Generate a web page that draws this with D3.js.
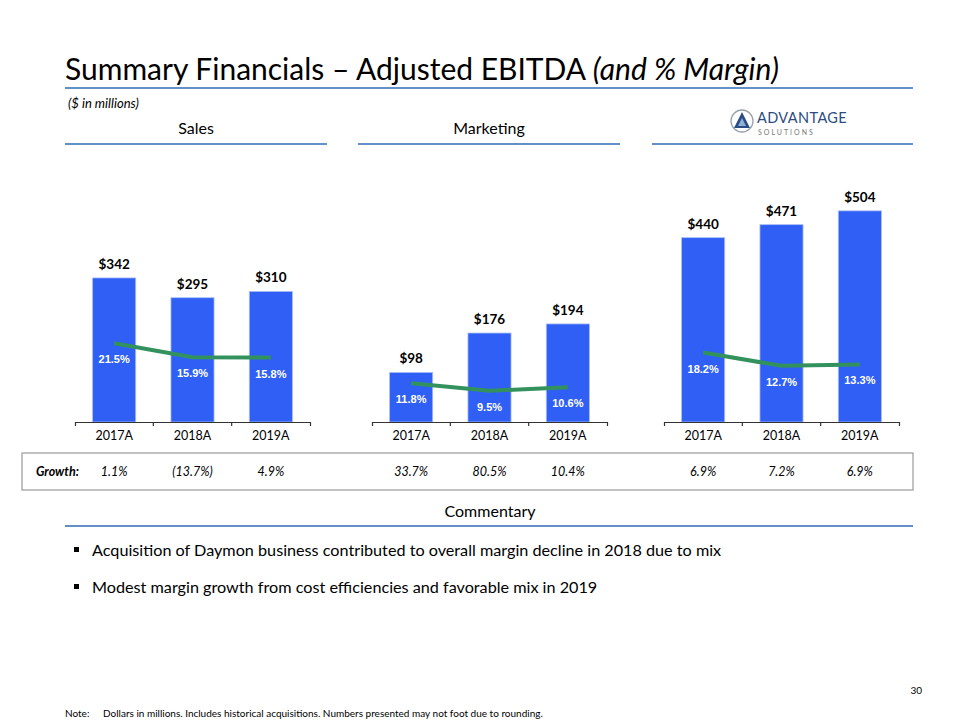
<!DOCTYPE html>
<html>
<head>
<meta charset="utf-8">
<script src="https://cdn.jsdelivr.net/npm/d3@7"></script>
<style>
  html, body { margin: 0; padding: 0; background: #fff; }
  svg { display: block; }
</style>
</head>
<body>
<svg id="chart" width="960" height="720"></svg>
<script>
// ---------- DATA ----------
const categories = ["2017A", "2018A", "2019A"];
const panelTitles = ["Sales", "Marketing", ""];
const salesEbitda = [342, 295, 310];
const salesMargin = [21.5, 15.9, 15.8];
const marketingEbitda = [98, 176, 194];
const marketingMargin = [11.8, 9.5, 10.6];
const totalEbitda = [440, 471, 504];
const totalMargin = [18.2, 12.7, 13.3];
const salesGrowth = ["1.1%", "(13.7%)", "4.9%"];
const marketingGrowth = ["33.7%", "80.5%", "10.4%"];
const totalGrowth = ["6.9%", "7.2%", "6.9%"];
const bullets = [
  "Acquisition of Daymon business contributed to overall margin decline in 2018 due to mix",
  "Modest margin growth from cost efficiencies and favorable mix in 2019"
];

// ---------- LAYOUT ----------
const svg = d3.select("#chart");
const font = "Lato, 'Open Sans', sans-serif";
const lineBlue = "#2f6db5";
const barBlue = "#2f5ff4";
const green = "#33915e";
const axisY = 422, topY = 192;

const panels = [
  { x0: 75, headX: [65, 327], ebitda: salesEbitda, margin: salesMargin, growth: salesGrowth, yMax: 546, mDom: [-10, 82] },
  { x0: 372, headX: [358, 620], ebitda: marketingEbitda, margin: marketingMargin, growth: marketingGrowth, yMax: 455, mDom: [0, 70] },
  { x0: 664, headX: [652, 913], ebitda: totalEbitda, margin: totalMargin, growth: totalGrowth, yMax: 549, mDom: [-10.5, 84.5] }
];

// Title
const title = svg.append("text").attr("x", 65).attr("y", 80)
  .attr("font-family", font).attr("font-size", 30).attr("fill", "#000");
title.append("tspan").text("Summary Financials \u2013 Adjusted EBITDA ");
title.append("tspan").attr("font-style", "italic").text("(and % Margin)");
svg.append("line").attr("x1", 65).attr("x2", 913).attr("y1", 88).attr("y2", 88)
  .attr("stroke", lineBlue).attr("stroke-width", 1.5);

svg.append("text").attr("x", 68).attr("y", 108).attr("font-family", font)
  .attr("font-size", 13).attr("font-style", "italic").attr("fill", "#000").text("($ in millions)");

// Panels
panels.forEach((p, i) => {
  if (panelTitles[i]) {
    svg.append("text").attr("x", (p.headX[0] + p.headX[1]) / 2).attr("y", 134)
      .attr("text-anchor", "middle").attr("font-family", font).attr("font-size", 16)
      .attr("fill", "#000").text(panelTitles[i]);
  }
  svg.append("line").attr("x1", p.headX[0]).attr("x2", p.headX[1]).attr("y1", 144).attr("y2", 144)
    .attr("stroke", lineBlue).attr("stroke-width", 1.5);

  const x = d3.scaleBand().domain(categories).range([p.x0, p.x0 + 235])
    .paddingInner(0.45).paddingOuter(0.225);
  const y = d3.scaleLinear().domain([0, p.yMax]).range([axisY, topY]);
  const ym = d3.scaleLinear().domain(p.mDom).range([axisY, topY]);

  const g = svg.append("g");
  g.selectAll("rect.bar").data(p.ebitda).join("rect").attr("class", "bar")
    .attr("x", (d, j) => x(categories[j])).attr("width", x.bandwidth())
    .attr("y", d => y(d)).attr("height", d => axisY - y(d))
    .attr("fill", barBlue).attr("stroke", "#a9bdf7").attr("stroke-width", 0.8);
  g.selectAll("text.val").data(p.ebitda).join("text").attr("class", "val")
    .attr("x", (d, j) => x(categories[j]) + x.bandwidth() / 2).attr("y", d => y(d) - 9)
    .attr("text-anchor", "middle").attr("font-family", font).attr("font-weight", "bold")
    .attr("font-size", 13.5).attr("fill", "#000").text(d => "$" + d);
  const line = d3.line().x((d, j) => x(categories[j]) + x.bandwidth() / 2).y(d => ym(d));
  g.append("path").datum(p.margin).attr("d", line).attr("fill", "none")
    .attr("stroke", green).attr("stroke-width", 4);
  g.selectAll("text.mg").data(p.margin).join("text").attr("class", "mg")
    .attr("x", (d, j) => x(categories[j]) + x.bandwidth() / 2).attr("y", d => ym(d) + 20)
    .attr("text-anchor", "middle").attr("font-family", "'Liberation Sans', Arial, sans-serif")
    .attr("font-weight", "bold").attr("font-size", 11).attr("fill", "#fff")
    .text(d => d.toFixed(1) + "%");
  const ax = svg.append("g").attr("transform", `translate(0,${axisY})`)
    .call(d3.axisBottom(x).tickSize(0).tickSizeOuter(4).tickPadding(9));
  ax.select(".domain").attr("stroke", "#333").attr("stroke-width", 1.2);
  ax.selectAll("text").attr("font-family", font).attr("font-size", 12.5).attr("fill", "#000");
  const inner = categories.slice(1).map((c, j) => p.x0 + x.step() * (j + 1));
  ax.selectAll("line.bt").data(inner).join("line").attr("class", "bt")
    .attr("x1", d => d).attr("x2", d => d).attr("y1", 0).attr("y2", 4)
    .attr("stroke", "#333").attr("stroke-width", 1.2);

  svg.selectAll(null).data(p.growth).join("text")
    .attr("x", (d, j) => x(categories[j]) + x.bandwidth() / 2).attr("y", 476)
    .attr("text-anchor", "middle").attr("font-family", font).attr("font-style", "italic")
    .attr("font-size", 12.5).attr("fill", "#000").text(d => d);
});

// growth box
svg.append("rect").attr("x", 22).attr("y", 453).attr("width", 891).attr("height", 37)
  .attr("fill", "none").attr("stroke", "#999").attr("stroke-width", 1.2);
svg.append("text").attr("x", 36).attr("y", 476).attr("font-family", font)
  .attr("font-style", "italic").attr("font-weight", "bold").attr("font-size", 12.5)
  .attr("fill", "#000").text("Growth:");

// Logo
const logo = svg.append("g");
logo.append("circle").attr("cx", 742).attr("cy", 121).attr("r", 11)
  .attr("fill", "#fff").attr("stroke", "#9aa3ad").attr("stroke-width", 1.3);
logo.append("path").attr("d", "M742,112 L750,128 L734,128 Z").attr("fill", "#2b4d86");
logo.append("path").attr("d", "M742,118 L746,126 L738,126 Z").attr("fill", "#8fb0d8");
logo.append("text").attr("x", 757).attr("y", 123).attr("font-family", font)
  .attr("font-size", 14.5).attr("fill", "#2c4c80").attr("letter-spacing", 0.4).text("ADVANTAGE");
logo.append("text").attr("x", 758).attr("y", 135).attr("font-family", font)
  .attr("font-size", 7).attr("fill", "#777").attr("letter-spacing", 2).text("SOLUTIONS");

// Commentary
svg.append("text").attr("x", 490).attr("y", 517).attr("text-anchor", "middle")
  .attr("font-family", font).attr("font-size", 16).attr("fill", "#000").text("Commentary");
svg.append("line").attr("x1", 65).attr("x2", 913).attr("y1", 526).attr("y2", 526)
  .attr("stroke", lineBlue).attr("stroke-width", 1.5);
bullets.forEach((b, i) => {
  const by = 556 + i * 37;
  svg.append("rect").attr("x", 74).attr("y", by - 9).attr("width", 5).attr("height", 5).attr("fill", "#000");
  svg.append("text").attr("x", 92).attr("y", by).attr("font-family", font)
    .attr("font-size", 16.2).attr("fill", "#000").text(b);
});

// Footer
svg.append("text").attr("x", 65).attr("y", 717).attr("font-family", font)
  .attr("font-size", 10).attr("fill", "#000").text("Note:");
svg.append("text").attr("x", 103).attr("y", 717).attr("font-family", font)
  .attr("font-size", 10).attr("fill", "#000")
  .text("Dollars in millions. Includes historical acquisitions. Numbers presented may not foot due to rounding.");
svg.append("text").attr("x", 922).attr("y", 694).attr("text-anchor", "end").attr("font-family", font)
  .attr("font-size", 10).attr("fill", "#000").text("30");
</script>
</body>
</html>
